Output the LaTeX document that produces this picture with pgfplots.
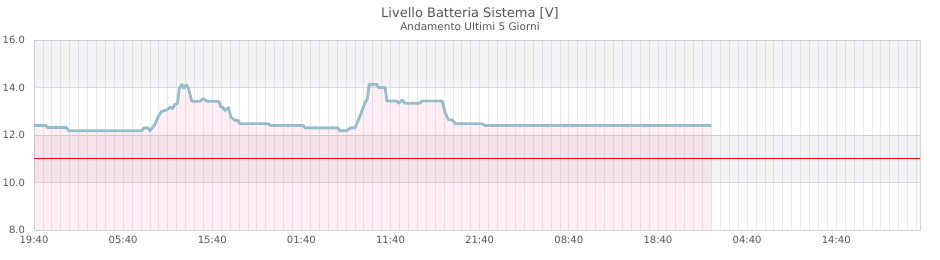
\documentclass[border=0pt]{standalone}
\usepackage{fontspec}
\setmainfont{DejaVu Sans}
\usepackage{pgfplots}
\usepackage{pgfplotstable}
\pgfplotsset{compat=1.18}
\definecolor{txt}{RGB}{85,85,85}
\definecolor{linec}{RGB}{150,190,202}
\definecolor{vgrid}{RGB}{234,231,250}
\definecolor{hgrid}{RGB}{220,220,220}
\definecolor{pinkf}{RGB}{255,100,130}
\pgfplotstableread{
u v
0 12.40
1.3 12.40
1.5 12.32
3.6 12.32
3.9 12.18
12.1 12.18
12.3 12.30
12.8 12.30
13.0 12.18
13.2 12.25
13.6 12.47
13.9 12.75
14.3 12.99
14.9 13.06
15.3 13.17
15.5 13.10
15.8 13.28
16.1 13.32
16.3 13.96
16.6 14.13
16.8 13.98
17.1 14.10
17.3 14.00
17.7 13.42
18.6 13.42
19.0 13.53
19.4 13.42
20.7 13.42
21.0 13.17
21.2 13.17
21.4 13.03
21.8 13.15
22.1 12.75
22.6 12.61
22.9 12.61
23.1 12.47
26.3 12.47
26.5 12.40
30.2 12.40
30.4 12.30
34.1 12.30
34.3 12.18
35.1 12.18
35.5 12.30
36.0 12.30
36.2 12.47
36.6 12.82
37.1 13.33
37.4 13.53
37.6 14.14
38.5 14.14
38.6 14.00
39.4 14.00
39.6 13.43
40.7 13.43
40.9 13.34
41.3 13.47
41.6 13.34
43.3 13.34
43.5 13.43
45.8 13.43
46.1 12.96
46.5 12.64
46.9 12.64
47.3 12.47
50.3 12.47
50.6 12.40
76.0 12.40
}\battery
\begin{document}
\begin{tikzpicture}
\begin{axis}[
  name=ax,
  scale only axis,
  width=886pt, height=190pt,
  xmin=0, xmax=99.4,
  ymin=8, ymax=16,
  xtick={0,10,...,90},
  xticklabels={19:40,05:40,15:40,01:40,11:40,21:40,08:40,18:40,04:40,14:40},
  minor xtick={0,1,...,99},
  ytick={8,10,12,14,16},
  yticklabel style={/pgf/number format/fixed,/pgf/number format/fixed zerofill,/pgf/number format/precision=1,xshift=-5.5pt},
  /pgf/number format/assume math mode=true,
  major tick length=0pt, minor tick length=0pt,
  xmajorgrids, xminorgrids, ymajorgrids,
  x grid style={draw=vgrid, line width=0.75pt},
  minor x grid style={draw=vgrid, line width=0.75pt},
  y grid style={draw=hgrid, line width=0.8pt},
  axis line style={draw=black!17, line width=0.8pt},
  tick label style={font=\fontsize{10}{12}\selectfont, text=txt},
  xticklabel style={yshift=-3pt},
  clip=true,
]
\addplot[draw=none, fill=black, fill opacity=0.047] coordinates {(0,14) (99.4,14) (99.4,16) (0,16)} -- cycle;
\addplot[draw=none, fill=black, fill opacity=0.047] coordinates {(0,10) (99.4,10) (99.4,12) (0,12)} -- cycle;
\addplot[draw=none, fill=pinkf, fill opacity=0.1] table[x=u,y=v] {\battery} |- (axis cs:0,8) -- cycle;
\addplot[red, line width=1pt] coordinates {(0,11) (99.4,11)};
\addplot[linec, line width=2.8pt, line join=round] table[x=u,y=v] {\battery};
\end{axis}
\node[anchor=base, text=txt, font=\fontsize{13}{15}\selectfont] at ([xshift=-7pt,yshift=22pt]ax.north) {Livello Batteria Sistema [V]};
\node[anchor=base, text=txt, font=\fontsize{10.5}{12}\selectfont] at ([xshift=-7pt,yshift=9pt]ax.north) {Andamento Ultimi 5 Giorni};
\pgfresetboundingbox
\useasboundingbox ([shift={(-34pt,-30pt)}]ax.south west) rectangle ([shift={(20pt,40pt)}]ax.north east);
\end{tikzpicture}
\end{document}
